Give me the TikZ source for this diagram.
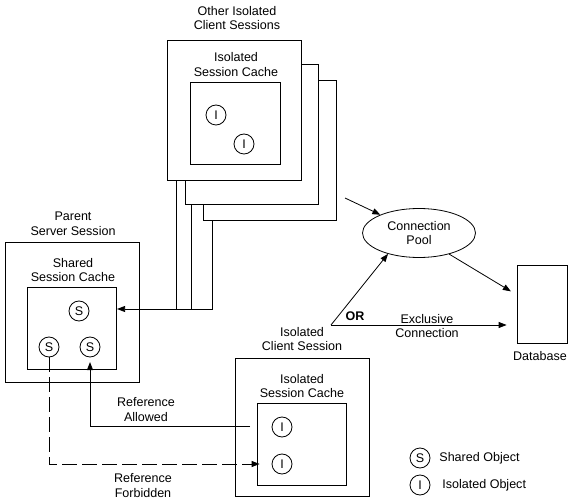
\documentclass[tikz,border=0pt]{standalone}
\usepackage{fontspec}
\setmainfont{Liberation Sans}
\usetikzlibrary{arrows.meta,shapes.geometric}
\begin{document}
\begin{tikzpicture}[x=0.75pt,y=-0.75pt,line width=0.6pt,
	font=\fontsize{9.4pt}{10.9pt}\selectfont,
	txt/.style={align=center,inner sep=0pt},
	sess/.style={draw,fill=white,minimum width=100pt,minimum height=105pt,inner sep=0pt},
	cache/.style={draw,fill=white,minimum width=67pt,minimum height=61pt,inner sep=0pt},
	obj/.style={draw,circle,minimum size=15pt,inner sep=0pt},
	tip/.style={-{Triangle[length=6pt,width=4.5pt]}}]
		\useasboundingbox (0,0) rectangle (571,502);

		\node[sess] (o3)at(270,150){};
		\node[sess] (o2)at(252,134){};
		\node[sess] (o1)at(234.5,110){};
		\node[cache] (oc)at(235.5,123.5){};
		\node[obj] (oi1)at(216,115){I};
		\node[obj] (oi2)at(244,144){I};
		\node[txt] (ot)at(237,18){Other Isolated\\Client Sessions};
		\node[txt] (oct)at(236,64.5){Isolated\\Session Cache};

		\node[sess] (ps)at(72.5,312){};
		\node[cache] (sc)at(72,328.5){};
		\node[obj] (s1)at(79,311){S};
		\node[obj] (s2)at(49,347){S};
		\node[obj] (s3)at(90,347){S};
		\node[txt] (pst)at(73,223.5){Parent\\Server Session};
		\node[txt] (sct)at(73,270){Shared\\Session Cache};

		\node[sess,minimum height=103.5pt] (cl)at(302.5,427){};
		\node[cache] (ic)at(302,444.5){};
		\node[obj] (i1)at(282,427){I};
		\node[obj] (i2)at(282,464){I};
		\node[txt] (clt)at(302,339){Isolated\\Client Session};
		\node[txt] (ict)at(302,386){Isolated\\Session Cache};

		\node[draw,ellipse,minimum width=84.75pt,minimum height=36.75pt,inner sep=0pt,align=center] (pool)at(419,233){Connection\\Pool};
		\node[draw,minimum width=37.5pt,minimum height=58.5pt] (db)at(542,304){};
		\node[txt] (dbt)at(540,356){Database};
		\node[txt,font=\fontsize{9.4pt}{10.9pt}\selectfont\bfseries] (or)at(355,316){OR};
		\node[txt] (ex)at(427,326){Exclusive\\Connection};

		\node[txt] (ra)at(146,409.5){Reference\\Allowed};
		\node[txt] (rf)at(143,485.5){Reference\\Forbidden};

		\node[obj] (ls)at(420,458){S};
		\node[obj] (li)at(420,485){I};
		\node[txt,anchor=west] (lst)at(439,458){Shared Object};
		\node[txt,anchor=west] (lit)at(442,485){Isolated Object};

		\coordinate (b1)at(176,309);
		\coordinate (b2)at(191,309);
		\coordinate (b3)at(212,309);
		\draw (o1.south-|b1) -- (b1);
		\draw (o2.south-|b2) -- (b2);
		\draw[tip] (o3.south-|b3) -- (b3) -- (b3-|sc.east);

		\coordinate (rs)at(250,426);
		\draw[tip,shorten >=3.5pt] (rs) -| (s3.south);
		\draw[tip,dash pattern=on 11pt off 4pt,shorten >=9pt] (s2.south) |- (i2.west);

		\coordinate (op)at(345,198);
		\coordinate (cs)at(331,325);
		\draw[tip] (op) -- (pool);
		\draw[tip] (cs) -- (pool.214);
		\draw[tip,shorten >=7.5pt] (cs) -- (cs-|db.west);
		\draw[tip,shorten >=5pt] (pool.-35) -- (db.160);
	\end{tikzpicture}
\end{document}
